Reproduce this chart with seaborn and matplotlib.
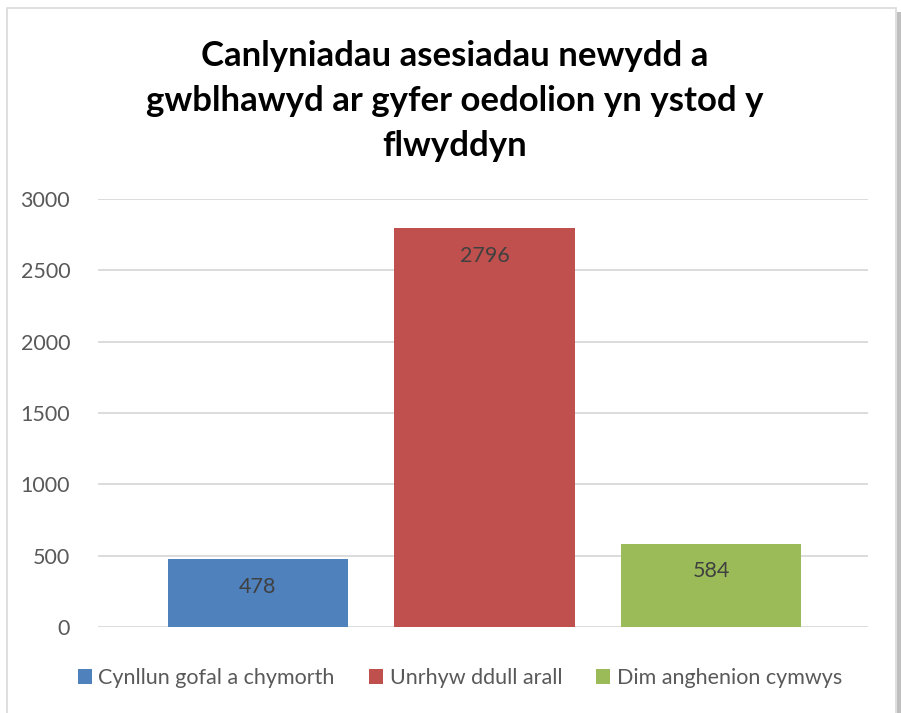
import matplotlib
matplotlib.use('Agg')

import matplotlib.pyplot as plt
import seaborn as sns
import pandas as pd
from matplotlib.patches import Rectangle, Patch

# Data
categories = ["Cynllun gofal a chymorth", "Unrhyw ddull arall", "Dim anghenion cymwys"]
values = [478, 2796, 584]
colors = ["#4F81BD", "#C0504D", "#9BBB59"]
title = "Canlyniadau asesiadau newydd a\ngwblhawyd ar gyfer oedolion yn ystod y\nflwyddyn"
yticks = [0, 500, 1000, 1500, 2000, 2500, 3000]

sns.set_theme(style="white")
plt.rcParams['font.family'] = ['Lato', 'DejaVu Sans']

df = pd.DataFrame({"cat": categories, "val": values})

fig = plt.figure(figsize=(9.01, 7.13), dpi=100)
W, H = 901, 713
# plot area in pixels: x 98..868, y 199..627
ax = fig.add_axes([98 / W, 1 - 627 / H, 770 / W, 428 / H])
ax.set_facecolor('none')

sns.barplot(data=df, x="cat", y="val", hue="cat", palette=colors,
            width=0.795, legend=False, ax=ax, saturation=1, linewidth=0)

ax.set_ylim(0, 3000)
ax.set_xlim(-0.706, 2.693)
ax.set_yticks(yticks)
ax.set_yticklabels([str(t) for t in yticks], fontsize=15.5, color="#595959")
ax.tick_params(axis='y', length=0, pad=20)
ax.set_xticks([])
ax.set_xlabel("")
ax.set_ylabel("")
for s in ax.spines.values():
    s.set_visible(False)
ax.grid(axis='y', color="#D9D9D9", linewidth=1.3)
ax.set_axisbelow(True)

# data labels inside top of bars
for i, v in enumerate(values):
    ax.annotate(str(v), (i, v), xytext=(0, -20), textcoords='offset points',
                ha='center', va='center', fontsize=15.5, color="#404040")

fig.text(455 / W, 1 - 101 / H, title, ha='center', va='center', fontsize=25,
         fontweight='bold', color='black', linespacing=1.5)

handles = [Patch(facecolor=c, edgecolor='none') for c in colors]
fig.legend(handles, categories, loc='center', bbox_to_anchor=(460 / W, 1 - 678 / H),
           ncol=3, frameon=False, fontsize=15.5, labelcolor="#595959",
           handlelength=0.65, handleheight=0.65, handletextpad=0.3, columnspacing=1.6)

# chart border and shadow
fig.patches.append(Rectangle((897 / W, 0), 4 / W, 1 - 12 / H, transform=fig.transFigure,
                             facecolor="#BFBFBF", edgecolor='none', zorder=-2))
fig.patches.append(Rectangle((7 / W, -0.01), 889 / W, 1 - 8 / H + 0.01, transform=fig.transFigure,
                             facecolor='white', edgecolor="#D9D9D9", linewidth=1.2, zorder=-1))

fig.savefig("out.png", dpi=100)
